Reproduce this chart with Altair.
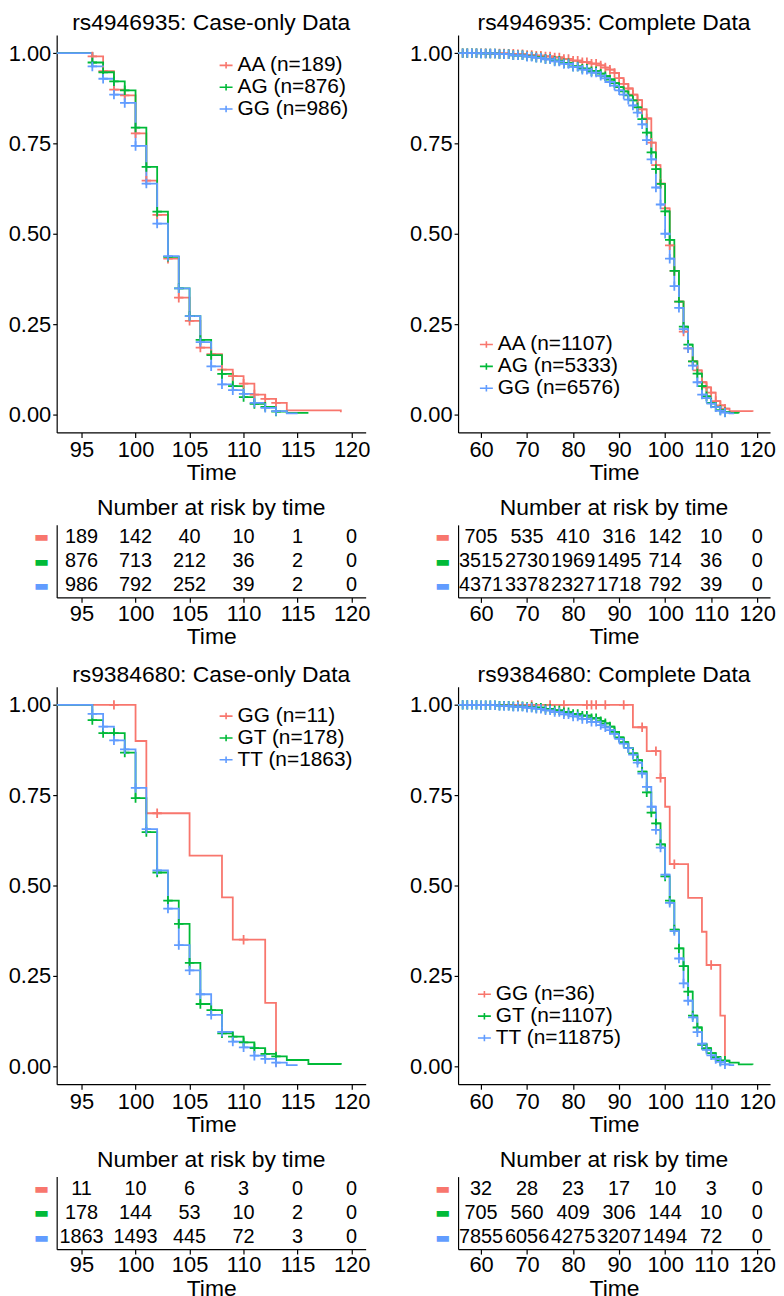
import altair as alt
import pandas as pd

RED, GREEN, BLUE = "#F8766D", "#00BA38", "#619CFF"
FONT = "Liberation Sans"
PLUS = "M-1,0L1,0M0,-1L0,1"
LEG_SYM = "M-1,0L1,0M0,-0.5L0,0.5"

# ---------------- titles / labels ----------------
titles = ["rs4946935: Case-only Data", "rs4946935: Complete Data",
          "rs9384680: Case-only Data", "rs9384680: Complete Data"]
p1_labels = ["AA (n=189)", "AG (n=876)", "GG (n=986)"]
p2_labels = ["AA (n=1107)", "AG (n=5333)", "GG (n=6576)"]
p3_labels = ["GG (n=11)", "GT (n=178)", "TT (n=1863)"]
p4_labels = ["GG (n=36)", "GT (n=1107)", "TT (n=11875)"]
codes_top = ["AA", "AG", "GG"]
codes_bot = ["GG", "GT", "TT"]

# ---------------- axis ticks ----------------
ticks_case = [95, 100, 105, 110, 115, 120]
ticks_comp = [60, 70, 80, 90, 100, 110, 120]
dom_case = [92.7, 121.3]
dom_comp = [55.0, 122.8]

# ---------------- censoring times ----------------
cens_case = [96, 97, 98, 99, 100, 101, 102, 103, 104, 105, 106, 107, 108, 109, 110, 111, 112, 113]
cens_comp = [56, 57, 58, 59, 60, 61, 62, 63, 64, 65, 66, 67, 68, 69, 70, 71, 72, 73, 74, 75,
             76, 77, 78, 79, 80, 81, 82, 83, 84, 85, 86, 87, 88, 89, 90, 91, 92, 93, 94, 95,
             96, 97, 98, 99, 100, 101, 102, 103, 104, 105, 106, 107, 108, 109, 110, 111, 112, 113]
p3_cens_GG = [98, 102, 110]
p4_cens_GG = [68, 71, 75, 78, 83, 84, 85, 87, 91, 95, 98, 99, 102, 110]

# ---------------- panel 1: rs4946935 case-only ----------------
p1_t_AA = [90, 96, 97, 98, 99, 100, 101, 102, 103, 104, 105, 106, 107, 108, 109, 110, 111, 112, 113, 114, 119]
p1_s_AA = [1.0, 0.991, 0.950, 0.899, 0.883, 0.778, 0.647, 0.552, 0.431, 0.323, 0.259, 0.185, 0.167, 0.124, 0.106, 0.085, 0.055, 0.043, 0.032, 0.011, 0.006]
p1_t_AG = [90, 96, 97, 98, 99, 100, 101, 102, 103, 104, 105, 106, 107, 108, 109, 110, 111, 112, 113, 114, 116]
p1_s_AG = [1.0, 0.974, 0.947, 0.922, 0.897, 0.794, 0.685, 0.561, 0.436, 0.349, 0.272, 0.206, 0.164, 0.112, 0.078, 0.048, 0.029, 0.021, 0.008, 0.004, 0.004]
p1_t_GG = [90, 96, 97, 98, 99, 100, 101, 102, 103, 104, 105, 106, 107, 108, 109, 110, 111, 112, 113, 114, 115]
p1_s_GG = [1.0, 0.963, 0.929, 0.885, 0.862, 0.743, 0.639, 0.528, 0.438, 0.349, 0.272, 0.200, 0.133, 0.083, 0.067, 0.057, 0.032, 0.018, 0.009, 0.003, 0.003]

# ---------------- panel 2: rs4946935 complete ----------------
p2_t_AA = [55, 62, 66, 68, 70, 72, 74, 76, 78, 80, 82, 84, 86, 87, 88, 89, 90, 91, 92, 93, 94, 95, 96, 97, 98, 99,
           100, 101, 102, 103, 104, 105, 106, 107, 108, 109, 110, 111, 112, 113, 114, 119]
p2_s_AA = [1.0, 0.999, 0.998, 0.997, 0.995, 0.993, 0.991, 0.988, 0.984, 0.979, 0.975, 0.971, 0.966, 0.960, 0.954,
           0.945, 0.931, 0.915, 0.902, 0.885, 0.870, 0.844, 0.819, 0.752, 0.690, 0.639, 0.570, 0.468, 0.397, 0.312,
           0.229, 0.183, 0.147, 0.122, 0.089, 0.075, 0.060, 0.037, 0.025, 0.016, 0.009, 0.007]
p2_t_AG = [55, 60, 64, 67, 70, 72, 74, 76, 78, 80, 82, 84, 86, 87, 88, 89, 90, 91, 92, 93, 94, 95, 96, 97, 98, 99,
           100, 101, 102, 103, 104, 105, 106, 107, 108, 109, 110, 111, 112, 113, 114, 116]
p2_s_AG = [1.0, 0.999, 0.997, 0.994, 0.991, 0.988, 0.984, 0.979, 0.972, 0.963, 0.957, 0.950, 0.943, 0.936, 0.927,
           0.917, 0.906, 0.894, 0.883, 0.869, 0.850, 0.817, 0.780, 0.725, 0.679, 0.638, 0.562, 0.483, 0.397, 0.312,
           0.243, 0.193, 0.147, 0.113, 0.078, 0.050, 0.032, 0.021, 0.012, 0.006, 0.004, 0.003]
p2_t_GG = [55, 60, 64, 67, 70, 72, 74, 76, 78, 80, 82, 84, 86, 87, 88, 89, 90, 91, 92, 93, 94, 95, 96, 97, 98, 99,
           100, 101, 102, 103, 104, 105, 106, 107, 108, 109, 110, 111, 112, 113, 114, 115]
p2_s_GG = [1.0, 0.999, 0.997, 0.994, 0.990, 0.987, 0.983, 0.977, 0.970, 0.962, 0.954, 0.946, 0.937, 0.930, 0.920,
           0.910, 0.897, 0.885, 0.871, 0.855, 0.835, 0.803, 0.759, 0.706, 0.628, 0.581, 0.500, 0.431, 0.355, 0.295,
           0.236, 0.183, 0.135, 0.089, 0.055, 0.045, 0.030, 0.020, 0.010, 0.005, 0.003, 0.003]

# ---------------- panel 3: rs9384680 case-only ----------------
p3_t_GG = [90, 100, 101, 105, 108, 109, 112, 113]
p3_s_GG = [1.0, 0.900, 0.700, 0.583, 0.467, 0.350, 0.175, 0.0]
p3_t_GT = [90, 96, 97, 99, 100, 101, 102, 103, 104, 105, 106, 107, 108, 109, 110, 111, 112, 113, 114, 116, 119]
p3_s_GT = [1.0, 0.958, 0.922, 0.868, 0.742, 0.648, 0.536, 0.458, 0.394, 0.286, 0.172, 0.155, 0.091, 0.082, 0.066,
           0.050, 0.034, 0.027, 0.017, 0.006, 0.004]
p3_t_TT = [90, 96, 97, 98, 99, 100, 101, 102, 103, 104, 105, 106, 107, 108, 109, 110, 111, 112, 113, 114, 115]
p3_s_TT = [1.0, 0.975, 0.940, 0.902, 0.877, 0.770, 0.656, 0.542, 0.436, 0.335, 0.265, 0.199, 0.142, 0.095, 0.068,
           0.052, 0.029, 0.020, 0.010, 0.003, 0.003]

# ---------------- panel 4: rs9384680 complete ----------------
p4_t_GG = [55, 93, 96, 99, 100, 101, 105, 108, 109, 112, 113]
p4_s_GG = [1.0, 0.938, 0.872, 0.798, 0.718, 0.559, 0.466, 0.372, 0.280, 0.140, 0.0]
p4_t_GT = [55, 60, 64, 67, 70, 72, 74, 76, 78, 80, 82, 84, 86, 87, 88, 89, 90, 91, 92, 93, 94, 95, 96, 97, 98, 99,
           100, 101, 102, 103, 104, 105, 106, 107, 108, 109, 110, 111, 112, 114, 116, 119]
p4_s_GT = [1.0, 0.999, 0.998, 0.996, 0.994, 0.992, 0.989, 0.985, 0.980, 0.975, 0.970, 0.963, 0.955, 0.949, 0.940,
           0.925, 0.910, 0.897, 0.881, 0.866, 0.847, 0.815, 0.758, 0.702, 0.672, 0.614, 0.525, 0.458, 0.378, 0.326,
           0.277, 0.206, 0.140, 0.107, 0.059, 0.050, 0.036, 0.025, 0.015, 0.010, 0.005, 0.004]
p4_t_TT = [55, 60, 64, 67, 70, 72, 74, 76, 78, 80, 82, 84, 86, 87, 88, 89, 90, 91, 92, 93, 94, 95, 96, 97, 98, 99,
           100, 101, 102, 103, 104, 105, 106, 107, 108, 109, 110, 111, 112, 113, 114, 115]
p4_s_TT = [1.0, 0.999, 0.997, 0.995, 0.992, 0.989, 0.985, 0.980, 0.974, 0.968, 0.961, 0.953, 0.944, 0.938, 0.930,
           0.920, 0.906, 0.893, 0.880, 0.862, 0.840, 0.810, 0.773, 0.718, 0.654, 0.605, 0.530, 0.452, 0.374, 0.298,
           0.229, 0.181, 0.135, 0.094, 0.062, 0.045, 0.030, 0.020, 0.012, 0.005, 0.003, 0.003]

# ---------------- number at risk ----------------
risk_t_case = [95, 100, 105, 110, 115, 120]
risk_t_comp = [60, 70, 80, 90, 100, 110, 120]
r1 = [[189, 142, 40, 10, 1, 0], [876, 713, 212, 36, 2, 0], [986, 792, 252, 39, 2, 0]]
r2 = [[705, 535, 410, 316, 142, 10, 0], [3515, 2730, 1969, 1495, 714, 36, 0], [4371, 3378, 2327, 1718, 792, 39, 0]]
r3 = [[11, 10, 6, 3, 0, 0], [178, 144, 53, 10, 2, 0], [1863, 1493, 445, 72, 3, 0]]
r4 = [[32, 28, 23, 17, 10, 3, 0], [705, 560, 409, 306, 144, 10, 0], [7855, 6056, 4275, 3207, 1494, 72, 0]]


def km_df(labels, times, survs):
    rows = []
    for lab, ts, ss in zip(labels, times, survs):
        for t, s in zip(ts, ss):
            rows.append({"group": lab, "time": t, "surv": s})
    return pd.DataFrame(rows)


def cens_df(labels, times, survs, cens):
    rows = []
    for lab, ts, ss, cs in zip(labels, times, survs, cens):
        for c in cs:
            if c < ts[0] or c > ts[-1]:
                continue
            v = ss[0]
            for t, s in zip(ts, ss):
                if t <= c:
                    v = s
            rows.append({"group": lab, "time": c, "surv": v})
    return pd.DataFrame(rows)


def km_chart(title, labels, times, survs, cens, xdom, xticks, width, lx, ly):
    x = alt.X("time:Q", scale=alt.Scale(domain=xdom, nice=False, zero=False),
              axis=alt.Axis(values=xticks, title="Time", tickSize=5, labelFlush=False,
                            labelPadding=2, titlePadding=1.5, labelOverlap=False))
    y = alt.Y("surv:Q", scale=alt.Scale(domain=[-0.05, 1.05], nice=False, zero=False),
              axis=alt.Axis(values=[0, 0.25, 0.5, 0.75, 1.0], format=".2f", title=None,
                            tickSize=4, labelPadding=2, minExtent=49, maxExtent=49))
    leg = alt.Legend(title=None, orient="none", legendX=lx, legendY=ly, symbolType=LEG_SYM,
                     symbolSize=170, symbolStrokeWidth=1.6, labelFontSize=21, labelFont=FONT,
                     labelColor="black", rowPadding=0, padding=0, labelOffset=1,
                     symbolFillColor="transparent")
    color = alt.Color("group:N", scale=alt.Scale(domain=labels, range=[RED, GREEN, BLUE]), legend=leg)
    lines = alt.Chart(km_df(labels, times, survs)).mark_line(
        interpolate="step-after", strokeWidth=1.8, clip=True).encode(x=x, y=y, color=color)
    pts = alt.Chart(cens_df(labels, times, survs, cens)).mark_point(
        shape=PLUS, size=90, filled=False, strokeWidth=1.8, opacity=1, clip=True).encode(x=x, y=y, color=color)
    return alt.layer(lines, pts).properties(
        width=width, height=400,
        title=alt.TitleParams(title, fontSize=23, font=FONT, fontWeight="normal", offset=0,
                              frame="group", anchor="middle", color="black"))


def label_color(codes):
    return {"condition": [{"test": f"datum.value === '{codes[0]}'", "value": RED},
                          {"test": f"datum.value === '{codes[1]}'", "value": GREEN}],
            "value": BLUE}


def risk_chart(codes, times, counts, xdom, xticks, width):
    rows = []
    for code, cs in zip(codes, counts):
        for t, n in zip(times, cs):
            rows.append({"code": code, "time": t, "n": str(n)})
    df = pd.DataFrame(rows)
    x = alt.X("time:Q", scale=alt.Scale(domain=xdom, nice=False, zero=False),
              axis=alt.Axis(values=xticks, title="Time", tickSize=5, labelFlush=False,
                            labelPadding=1, titlePadding=1.5, labelOverlap=False))
    y = alt.Y("code:N", sort=codes, scale=alt.Scale(type="point", padding=0.5),
              axis=alt.Axis(title=None, labelExpr="'\u25ac'", labelColor=label_color(codes),
                            ticks=False, tickSize=0, labelFont="DejaVu Sans", labelFontSize=16,
                            labelPadding=8, minExtent=49, maxExtent=49))
    return alt.Chart(df).mark_text(fontSize=20, font=FONT, color="black", baseline="middle").encode(
        x=x, y=y, text="n:N").properties(
        width=width, height=73,
        title=alt.TitleParams("Number at risk by time", fontSize=23, font=FONT, fontWeight="normal",
                              offset=5, frame="group", anchor="middle", color="black"))


WL, WR = 311, 314
km1 = km_chart(titles[0], p1_labels, [p1_t_AA, p1_t_AG, p1_t_GG], [p1_s_AA, p1_s_AG, p1_s_GG],
               [cens_case, cens_case, cens_case], dom_case, ticks_case, WL, 160, 20)
km2 = km_chart(titles[1], p2_labels, [p2_t_AA, p2_t_AG, p2_t_GG], [p2_s_AA, p2_s_AG, p2_s_GG],
               [cens_comp, cens_comp, cens_comp], dom_comp, ticks_comp, WR, 18, 301)
km3 = km_chart(titles[2], p3_labels, [p3_t_GG, p3_t_GT, p3_t_TT], [p3_s_GG, p3_s_GT, p3_s_TT],
               [p3_cens_GG, cens_case, cens_case], dom_case, ticks_case, WL, 160, 19)
km4 = km_chart(titles[3], p4_labels, [p4_t_GG, p4_t_GT, p4_t_TT], [p4_s_GG, p4_s_GT, p4_s_TT],
               [p4_cens_GG, cens_comp, cens_comp], dom_comp, ticks_comp, WR, 16, 299)
rk1 = risk_chart(codes_top, risk_t_case, r1, dom_case, ticks_case, WL)
rk2 = risk_chart(codes_top, risk_t_comp, r2, dom_comp, ticks_comp, WR)
rk3 = risk_chart(codes_bot, risk_t_case, r3, dom_case, ticks_case, WL)
rk4 = risk_chart(codes_bot, risk_t_comp, r4, dom_comp, ticks_comp, WR)


def vc(*charts, spacing):
    return alt.vconcat(*charts, spacing=spacing).resolve_scale(
        x="independent", y="independent", color="independent").resolve_legend(color="independent")


left = vc(vc(km1, rk1, spacing=12), vc(km3, rk3, spacing=12), spacing=15)
right = vc(vc(km2, rk2, spacing=12), vc(km4, rk4, spacing=12), spacing=15)

chart = alt.hconcat(left, right, spacing=39).resolve_scale(
    x="independent", y="independent", color="independent").resolve_legend(color="independent").properties(
    padding=0).configure(font=FONT).configure_view(stroke=None).configure_axis(
    grid=False, domainColor="black", tickColor="black", labelColor="black", titleColor="black",
    labelFontSize=22, titleFontSize=23, titleFontWeight="normal", labelFont=FONT, titleFont=FONT,
    domainWidth=1.2, tickWidth=1.2)

chart.save("out.html", embed_options={"renderer": "svg", "actions": False})
